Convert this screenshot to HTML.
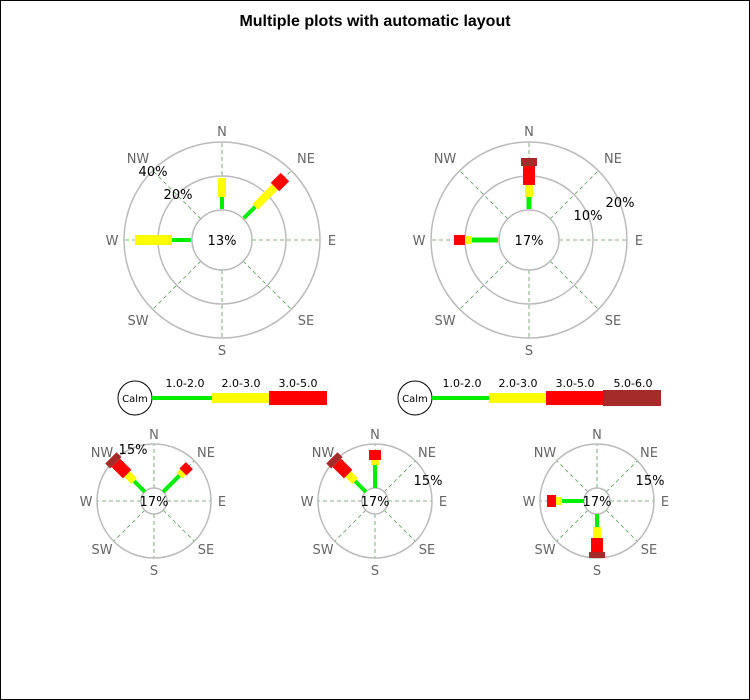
<!DOCTYPE html>
<html><head><style>body{margin:0;background:#fff}svg{display:block}</style></head><body>
<svg width="750" height="700" xmlns="http://www.w3.org/2000/svg" font-family="DejaVu Sans, Liberation Sans, sans-serif">
<rect x="0.5" y="0.5" width="749" height="699" fill="#fff" stroke="#000"/>
<text x="375" y="26" text-anchor="middle" font-size="16" font-weight="bold" font-family="Liberation Sans, sans-serif">Multiple plots with automatic layout</text>

<defs>
<g id="bigrose">
 <g stroke="#5a9a5a" stroke-dasharray="4,3" stroke-width="0.8">
  <line x1="0" y1="-30" x2="0" y2="-98"/><line x1="0" y1="30" x2="0" y2="98"/>
  <line x1="30" y1="0" x2="98" y2="0"/><line x1="-30" y1="0" x2="-98" y2="0"/>
  <line x1="21" y1="-21" x2="69" y2="-69"/><line x1="-21" y1="-21" x2="-69" y2="-69"/>
  <line x1="21" y1="21" x2="69" y2="69"/><line x1="-21" y1="21" x2="-69" y2="69"/>
 </g>
 <g fill="none" stroke="#bbb" stroke-width="1.5"><circle r="30"/><circle r="64"/><circle r="98"/></g>
 <g fill="#666" font-size="13" text-anchor="middle">
  <text x="0" y="-104">N</text><text x="0" y="115">S</text><text x="110" y="5">E</text><text x="-110" y="5">W</text>
  <text x="84" y="-77">NE</text><text x="-84" y="-77">NW</text><text x="84" y="85">SE</text><text x="-84" y="85">SW</text>
 </g>
</g>
<g id="smallrose">
 <g stroke="#5a9a5a" stroke-dasharray="4,3" stroke-width="0.8">
  <line x1="0" y1="-13" x2="0" y2="-57"/><line x1="0" y1="13" x2="0" y2="57"/>
  <line x1="13" y1="0" x2="57" y2="0"/><line x1="-13" y1="0" x2="-57" y2="0"/>
  <line x1="9" y1="-9" x2="40" y2="-40"/><line x1="-9" y1="-9" x2="-40" y2="-40"/>
  <line x1="9" y1="9" x2="40" y2="40"/><line x1="-9" y1="9" x2="-40" y2="40"/>
 </g>
 <g fill="none" stroke="#bbb" stroke-width="1.5"><circle r="13"/><circle r="57"/></g>
 <g fill="#666" font-size="13" text-anchor="middle">
  <text x="0" y="-62">N</text><text x="0" y="74">S</text><text x="68" y="5">E</text><text x="-68" y="5">W</text>
  <text x="52" y="-44">NE</text><text x="-52" y="-44">NW</text><text x="52" y="53">SE</text><text x="-52" y="53">SW</text>
 </g>
</g>
</defs>

<g transform="translate(222,240)">
 <use href="#bigrose"/>
 <g><rect x="-2" y="-43" width="4" height="12" fill="#0e0"/><rect x="-4" y="-62" width="8" height="19" fill="#ff0"/></g>
 <g transform="rotate(45)"><rect x="-2" y="-47" width="4" height="16" fill="#0e0"/><rect x="-4" y="-75" width="8" height="28" fill="#ff0"/><rect x="-6" y="-89" width="12" height="14" fill="#f00"/></g>
 <g transform="rotate(-90)"><rect x="-2" y="-50" width="4" height="19" fill="#0e0"/><rect x="-5" y="-87" width="10" height="37" fill="#ff0"/></g>
 <text x="0" y="5" text-anchor="middle" font-size="13">13%</text>
 <text x="-69" y="-64" text-anchor="middle" font-size="13">40%</text>
 <text x="-44" y="-41" text-anchor="middle" font-size="13">20%</text>
</g>

<g transform="translate(529,240)">
 <use href="#bigrose"/>
 <g><rect x="-2.5" y="-43" width="5" height="12" fill="#0e0"/><rect x="-4" y="-55" width="8" height="12" fill="#ff0"/><rect x="-6" y="-74" width="12" height="19" fill="#f00"/><rect x="-8" y="-82" width="16" height="8" fill="#a52a2a"/></g>
 <g transform="rotate(-90)"><rect x="-2.5" y="-57" width="5" height="26" fill="#0e0"/><rect x="-4" y="-64" width="8" height="7" fill="#ff0"/><rect x="-5" y="-75" width="10" height="11" fill="#f00"/></g>
 <text x="0" y="5" text-anchor="middle" font-size="13">17%</text>
 <text x="59" y="-20" text-anchor="middle" font-size="13">10%</text>
 <text x="91" y="-33" text-anchor="middle" font-size="13">20%</text>
</g>

<g font-size="11" text-anchor="middle">
 <circle cx="135" cy="398" r="17" fill="#fff" stroke="#000"/><text x="135" y="402" font-size="10">Calm</text>
 <rect x="152" y="396" width="60" height="4" fill="#0e0"/><rect x="212" y="393" width="57" height="10" fill="#ff0"/><rect x="269" y="391" width="58" height="14" fill="#f00"/>
 <text x="185" y="387">1.0-2.0</text><text x="241" y="387">2.0-3.0</text><text x="298" y="387">3.0-5.0</text>

 <circle cx="415" cy="398" r="17" fill="#fff" stroke="#000"/><text x="415" y="402" font-size="10">Calm</text>
 <rect x="432" y="396" width="57" height="4" fill="#0e0"/><rect x="489" y="393" width="57" height="10" fill="#ff0"/><rect x="546" y="391" width="57" height="14" fill="#f00"/><rect x="603" y="390" width="58" height="16" fill="#a52a2a"/>
 <text x="462" y="387">1.0-2.0</text><text x="518" y="387">2.0-3.0</text><text x="575" y="387">3.0-5.0</text><text x="633" y="387">5.0-6.0</text>
</g>

<g transform="translate(154,501)">
 <use href="#smallrose"/>
 <g transform="rotate(-45)"><rect x="-2" y="-28" width="4" height="15" fill="#0e0"/><rect x="-4" y="-38" width="8" height="10" fill="#ff0"/><rect x="-6" y="-54" width="12" height="16" fill="#f00"/><rect x="-8" y="-61" width="16" height="7" fill="#a52a2a"/></g>
 <g transform="rotate(45)"><rect x="-2" y="-36" width="4" height="23" fill="#0e0"/><rect x="-4" y="-41" width="8" height="5" fill="#ff0"/><rect x="-5" y="-50" width="10" height="9" fill="#f00"/></g>
 <text x="0" y="5" text-anchor="middle" font-size="13">17%</text>
 <text x="-21" y="-47" text-anchor="middle" font-size="13">15%</text>
</g>

<g transform="translate(375,501)">
 <use href="#smallrose"/>
 <g transform="rotate(-45)"><rect x="-2" y="-28" width="4" height="15" fill="#0e0"/><rect x="-4" y="-38" width="8" height="10" fill="#ff0"/><rect x="-6" y="-54" width="12" height="16" fill="#f00"/><rect x="-8" y="-61" width="16" height="7" fill="#a52a2a"/></g>
 <g><rect x="-2" y="-36" width="4" height="23" fill="#0e0"/><rect x="-4" y="-41" width="8" height="5" fill="#ff0"/><rect x="-6" y="-51" width="12" height="10" fill="#f00"/></g>
 <text x="0" y="5" text-anchor="middle" font-size="13">17%</text>
 <text x="53" y="-16" text-anchor="middle" font-size="13">15%</text>
</g>

<g transform="translate(597,501)">
 <use href="#smallrose"/>
 <g transform="rotate(-90)"><rect x="-2" y="-35" width="4" height="22" fill="#0e0"/><rect x="-4" y="-41" width="8" height="6" fill="#ff0"/><rect x="-6" y="-50" width="12" height="9" fill="#f00"/></g>
 <g transform="rotate(180)"><rect x="-2" y="-26" width="4" height="13" fill="#0e0"/><rect x="-4" y="-37" width="8" height="11" fill="#ff0"/><rect x="-6" y="-51" width="12" height="14" fill="#f00"/><rect x="-8" y="-57" width="16" height="6" fill="#a52a2a"/></g>
 <text x="0" y="5" text-anchor="middle" font-size="13">17%</text>
 <text x="53" y="-16" text-anchor="middle" font-size="13">15%</text>
</g>
</svg>
</body></html>
